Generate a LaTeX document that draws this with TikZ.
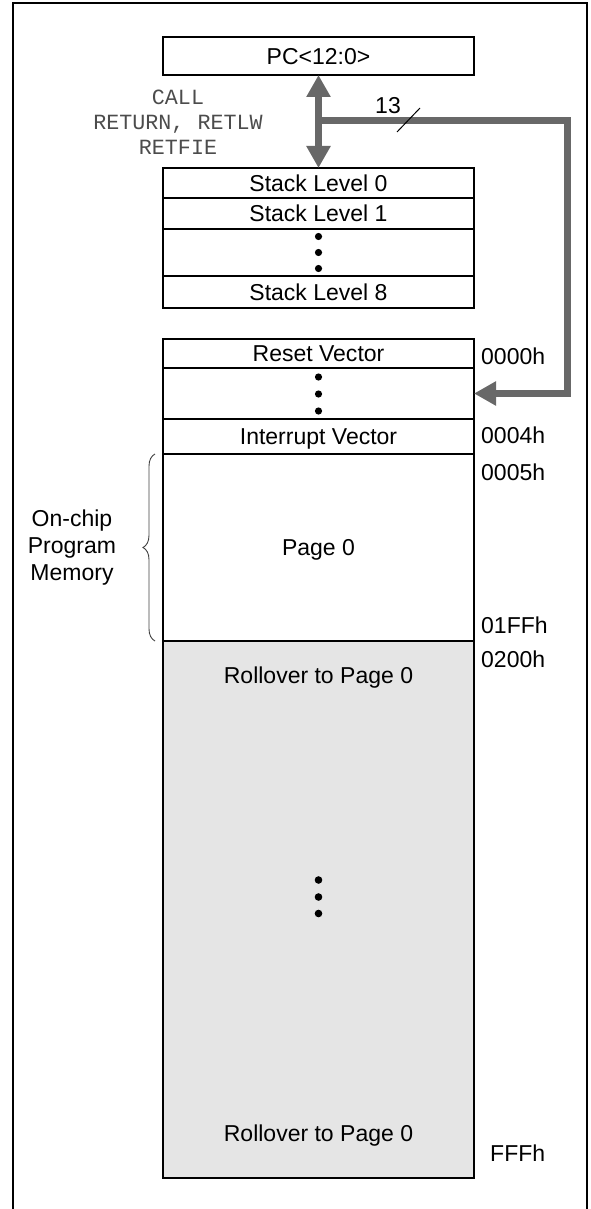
\documentclass[tikz,border=0pt]{standalone}
\usepackage{fontspec}
\setmainfont{Liberation Sans}
\newfontfamily\opsfont{Liberation Mono}
\usetikzlibrary{arrows.meta,decorations.pathreplacing}
\definecolor{busgray}{HTML}{686868}
\definecolor{rollgray}{HTML}{E5E5E5}
\begin{document}
\begin{tikzpicture}[x=1pt,y=-1pt,
  cell/.style={draw, line width=2.3pt, minimum width=311pt, inner sep=0pt, outer sep=0pt,
    anchor=north, font=\fontsize{23}{27}\selectfont, text height=16.6pt, text depth=0pt},
  lbl/.style={inner sep=0pt, font=\fontsize{23}{27}\selectfont, text height=16.6pt, text depth=0pt},
  addr/.style={lbl, anchor=west},
  bus/.style={line width=7pt, draw=busgray},
  bustip/.style={-{Triangle[width=23pt,length=22pt]}},
  dot/.style={fill=black}]
\useasboundingbox (0,0) rectangle (590,1209);
% outer frame
\draw[line width=2.8pt] (13,1209) -- (13,3) -- (587,3) -- (587,1209);

% PC
\node[cell, minimum height=38pt] (pc) at (318.5,37) {PC<12:0>};

% stack
\node[cell, minimum height=30pt] (s0) at (318.5,168) {Stack Level 0};
\node[cell, minimum height=31pt] (s1) at (318.5,198) {Stack Level 1};
\node[cell, minimum height=47pt] (sd) at (318.5,229) {};
\node[cell, minimum height=32pt] (s8) at (318.5,276) {Stack Level 8};
\fill[dot] (318.5,236.5) circle (3.6pt);
\fill[dot] (318.5,252.5) circle (3.6pt);
\fill[dot] (318.5,268.5) circle (3.6pt);

% program memory
\node[cell, minimum height=29pt] (rv) at (318.5,339) {Reset Vector};
\node[cell, minimum height=51pt] (vd) at (318.5,368) {};
\node[cell, minimum height=35pt] (iv) at (318.5,419) {Interrupt Vector};
\node[cell, minimum height=187pt] (p0) at (318.5,454) {Page 0};
\node[cell, fill=rollgray, minimum height=537pt] (ro) at (318.5,641) {};
\fill[dot] (318.5,377) circle (3.6pt);
\fill[dot] (318.5,394) circle (3.6pt);
\fill[dot] (318.5,411) circle (3.6pt);
\node[lbl] (rotop) at (318.5,675) {Rollover to Page 0};
\node[lbl] (robot) at (318.5,1133) {Rollover to Page 0};
\fill[dot] (318.5,880) circle (3.8pt);
\fill[dot] (318.5,897) circle (3.8pt);
\fill[dot] (318.5,913.5) circle (3.8pt);

% addresses
\node[addr] (a0000) at (481,356) {0000h};
\node[addr] (a0004) at (481,435) {0004h};
\node[addr] (a0005) at (481,472) {0005h};
\node[addr] (a01ff) at (481,625) {01FFh};
\node[addr] (a0200) at (481,659) {0200h};
\node[addr] (afff) at (490,1153) {FFFh};

% bus arrows
\draw[bus, {Triangle[width=23pt,length=22pt]}-{Triangle[width=23pt,length=22pt]}] (pc.south) -- (s0.north);
\coordinate (junc) at (318.5,121);
\coordinate (bend) at (567,121);
\draw[bus, bustip] (junc) -- (bend) |- (vd.east);
\node[lbl] (n13) at (388,105) {13};
\draw[line width=1pt] (397,132) -- (420,108);

% call labels
\node[align=center, inner sep=0pt, font=\opsfont\fontsize{21.7}{25}\selectfont, text=black!70] (ops) at (178,122) {CALL\\RETURN, RETLW\\RETFIE};

% brace and label
\draw[decorate, decoration={brace, amplitude=12pt}, line width=0.9pt, draw=black!75] (155,641) -- (155,454);
\node[lbl, align=center, text height=, text depth=] (ocpm) at (72,548) {On-chip\\Program\\Memory};
\end{tikzpicture}
\end{document}
